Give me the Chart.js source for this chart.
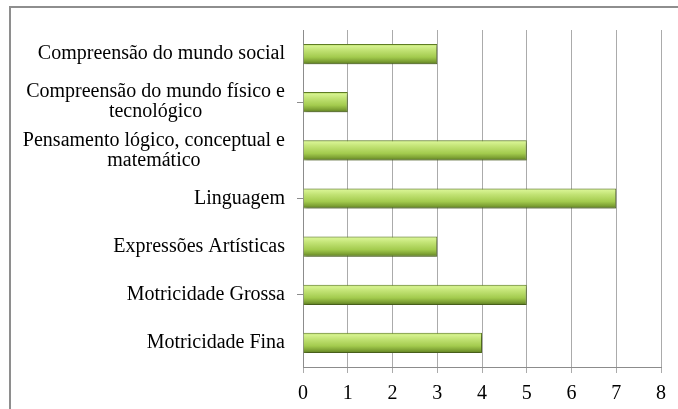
<!DOCTYPE html>
<html lang="pt">
<head>
    <meta charset="UTF-8">
    <title>Áreas de desenvolvimento</title>
    <script src="https://cdn.jsdelivr.net/npm/chart.js@4.4.1/dist/chart.umd.min.js"></script>
    <style>
        body { margin: 0; padding: 0; background: #fff; overflow: hidden; }
        .wrap { position: relative; width: 678px; height: 409px; }
    </style>
</head>
<body>
    <div class="wrap">
        <canvas id="chart" width="678" height="409"></canvas>
    </div>

    <script>
        // data
        const categories = [
            'Compreensão do mundo social',
            ['Compreensão do mundo físico e', 'tecnológico'],
            ['Pensamento lógico, conceptual e', 'matemático'],
            'Linguagem',
            'Expressões Artísticas',
            'Motricidade Grossa',
            'Motricidade Fina'
        ];
        const values = [3, 1, 5, 7, 3, 5, 4];
        const xTicks = [0, 1, 2, 3, 4, 5, 6, 7, 8];

        const FONT = '"Liberation Serif", "Times New Roman", serif';
        const FONT_SIZE = 20;
        const BAR_PCT = 0.42;

        // vertical gradient for each bar, like the bevelled Excel bars
        function barFill(c) {
            const chart = c.chart;
            const y = chart.scales.y;
            if (!chart.chartArea || !y || c.type !== 'data') return '#9cc54a';
            const mid = y.getPixelForValue(c.dataIndex);
            const half = y.height / categories.length * BAR_PCT / 2;
            const g = chart.ctx.createLinearGradient(0, mid - half, 0, mid + half);
            g.addColorStop(0, '#a4d148');
            g.addColorStop(0.1, '#d6f290');
            g.addColorStop(0.3, '#c2e375');
            g.addColorStop(0.65, '#a3cb4e');
            g.addColorStop(0.85, '#7fa335');
            g.addColorStop(1, '#5a7a20');
            return g;
        }

        // outer frame of the chart object (only left and top edges are in view)
        const framePlugin = {
            id: 'frame',
            beforeDraw(chart) {
                const ctx = chart.ctx;
                ctx.save();
                ctx.fillStyle = '#8e8e8e';
                ctx.fillRect(9, 6, 2, chart.height - 6);
                ctx.fillRect(9, 6, chart.width - 9, 2);
                ctx.restore();
            }
        };

        // soft shadow under the bars
        const shadowPlugin = {
            id: 'barShadow',
            beforeDatasetsDraw(chart) {
                const ctx = chart.ctx;
                ctx.save();
                ctx.shadowColor = 'rgba(0,0,0,0.35)';
                ctx.shadowBlur = 3;
                ctx.shadowOffsetX = 1;
                ctx.shadowOffsetY = 2;
            },
            afterDatasetsDraw(chart) {
                chart.ctx.restore();
            }
        };

        // category labels: block right aligned, lines centred inside the block
        const labelPlugin = {
            id: 'centredLabels',
            afterDraw(chart) {
                const y = chart.scales.y;
                const ctx = chart.ctx;
                const lineH = 20;
                ctx.save();
                ctx.font = FONT_SIZE + 'px ' + FONT;
                ctx.fillStyle = '#000';
                ctx.textAlign = 'center';
                ctx.textBaseline = 'middle';
                const right = y.right - 18;
                categories.forEach((lab, i) => {
                    const lines = Array.isArray(lab) ? lab : [lab];
                    const w = Math.max(...lines.map(l => ctx.measureText(l).width));
                    const cx = right - w / 2;
                    const cy = y.getPixelForValue(i);
                    const top = cy - (lines.length - 1) * lineH / 2;
                    lines.forEach((l, k) => ctx.fillText(l, cx, top + k * lineH));
                });
                ctx.restore();
            }
        };

        new Chart(document.getElementById('chart'), {
            type: 'bar',
            data: {
                labels: categories,
                datasets: [{
                    data: values,
                    backgroundColor: barFill,
                    borderColor: '#5f7d24',
                    borderWidth: 1,
                    borderSkipped: 'start',
                    categoryPercentage: 1,
                    barPercentage: BAR_PCT
                }]
            },
            options: {
                indexAxis: 'y',
                responsive: false,
                animation: false,
                devicePixelRatio: 1,
                layout: { autoPadding: false, padding: { left: 10, right: 17, top: 30, bottom: 0 } },
                plugins: {
                    legend: { display: false },
                    tooltip: { enabled: false }
                },
                scales: {
                    x: {
                        min: 0,
                        max: 8,
                        afterFit(scale) { scale.height = 42; },
                        afterBuildTicks(scale) {
                            scale.ticks = xTicks.map(v => ({ value: v }));
                        },
                        grid: {
                            color: '#ababab',
                            lineWidth: 1,
                            tickLength: 6,
                            drawTicks: true
                        },
                        border: { color: '#8c8c8c' },
                        ticks: {
                            color: '#000',
                            padding: 9,
                            font: { family: FONT, size: FONT_SIZE }
                        }
                    },
                    y: {
                        afterFit(scale) { scale.width = 293; },
                        grid: {
                            drawOnChartArea: false,
                            color: '#8c8c8c',
                            tickLength: 6
                        },
                        border: { color: '#8c8c8c' },
                        ticks: {
                            color: 'rgba(0,0,0,0)',
                            font: { family: FONT, size: FONT_SIZE }
                        }
                    }
                }
            },
            plugins: [framePlugin, shadowPlugin, labelPlugin]
        });
    </script>
</body>
</html>
